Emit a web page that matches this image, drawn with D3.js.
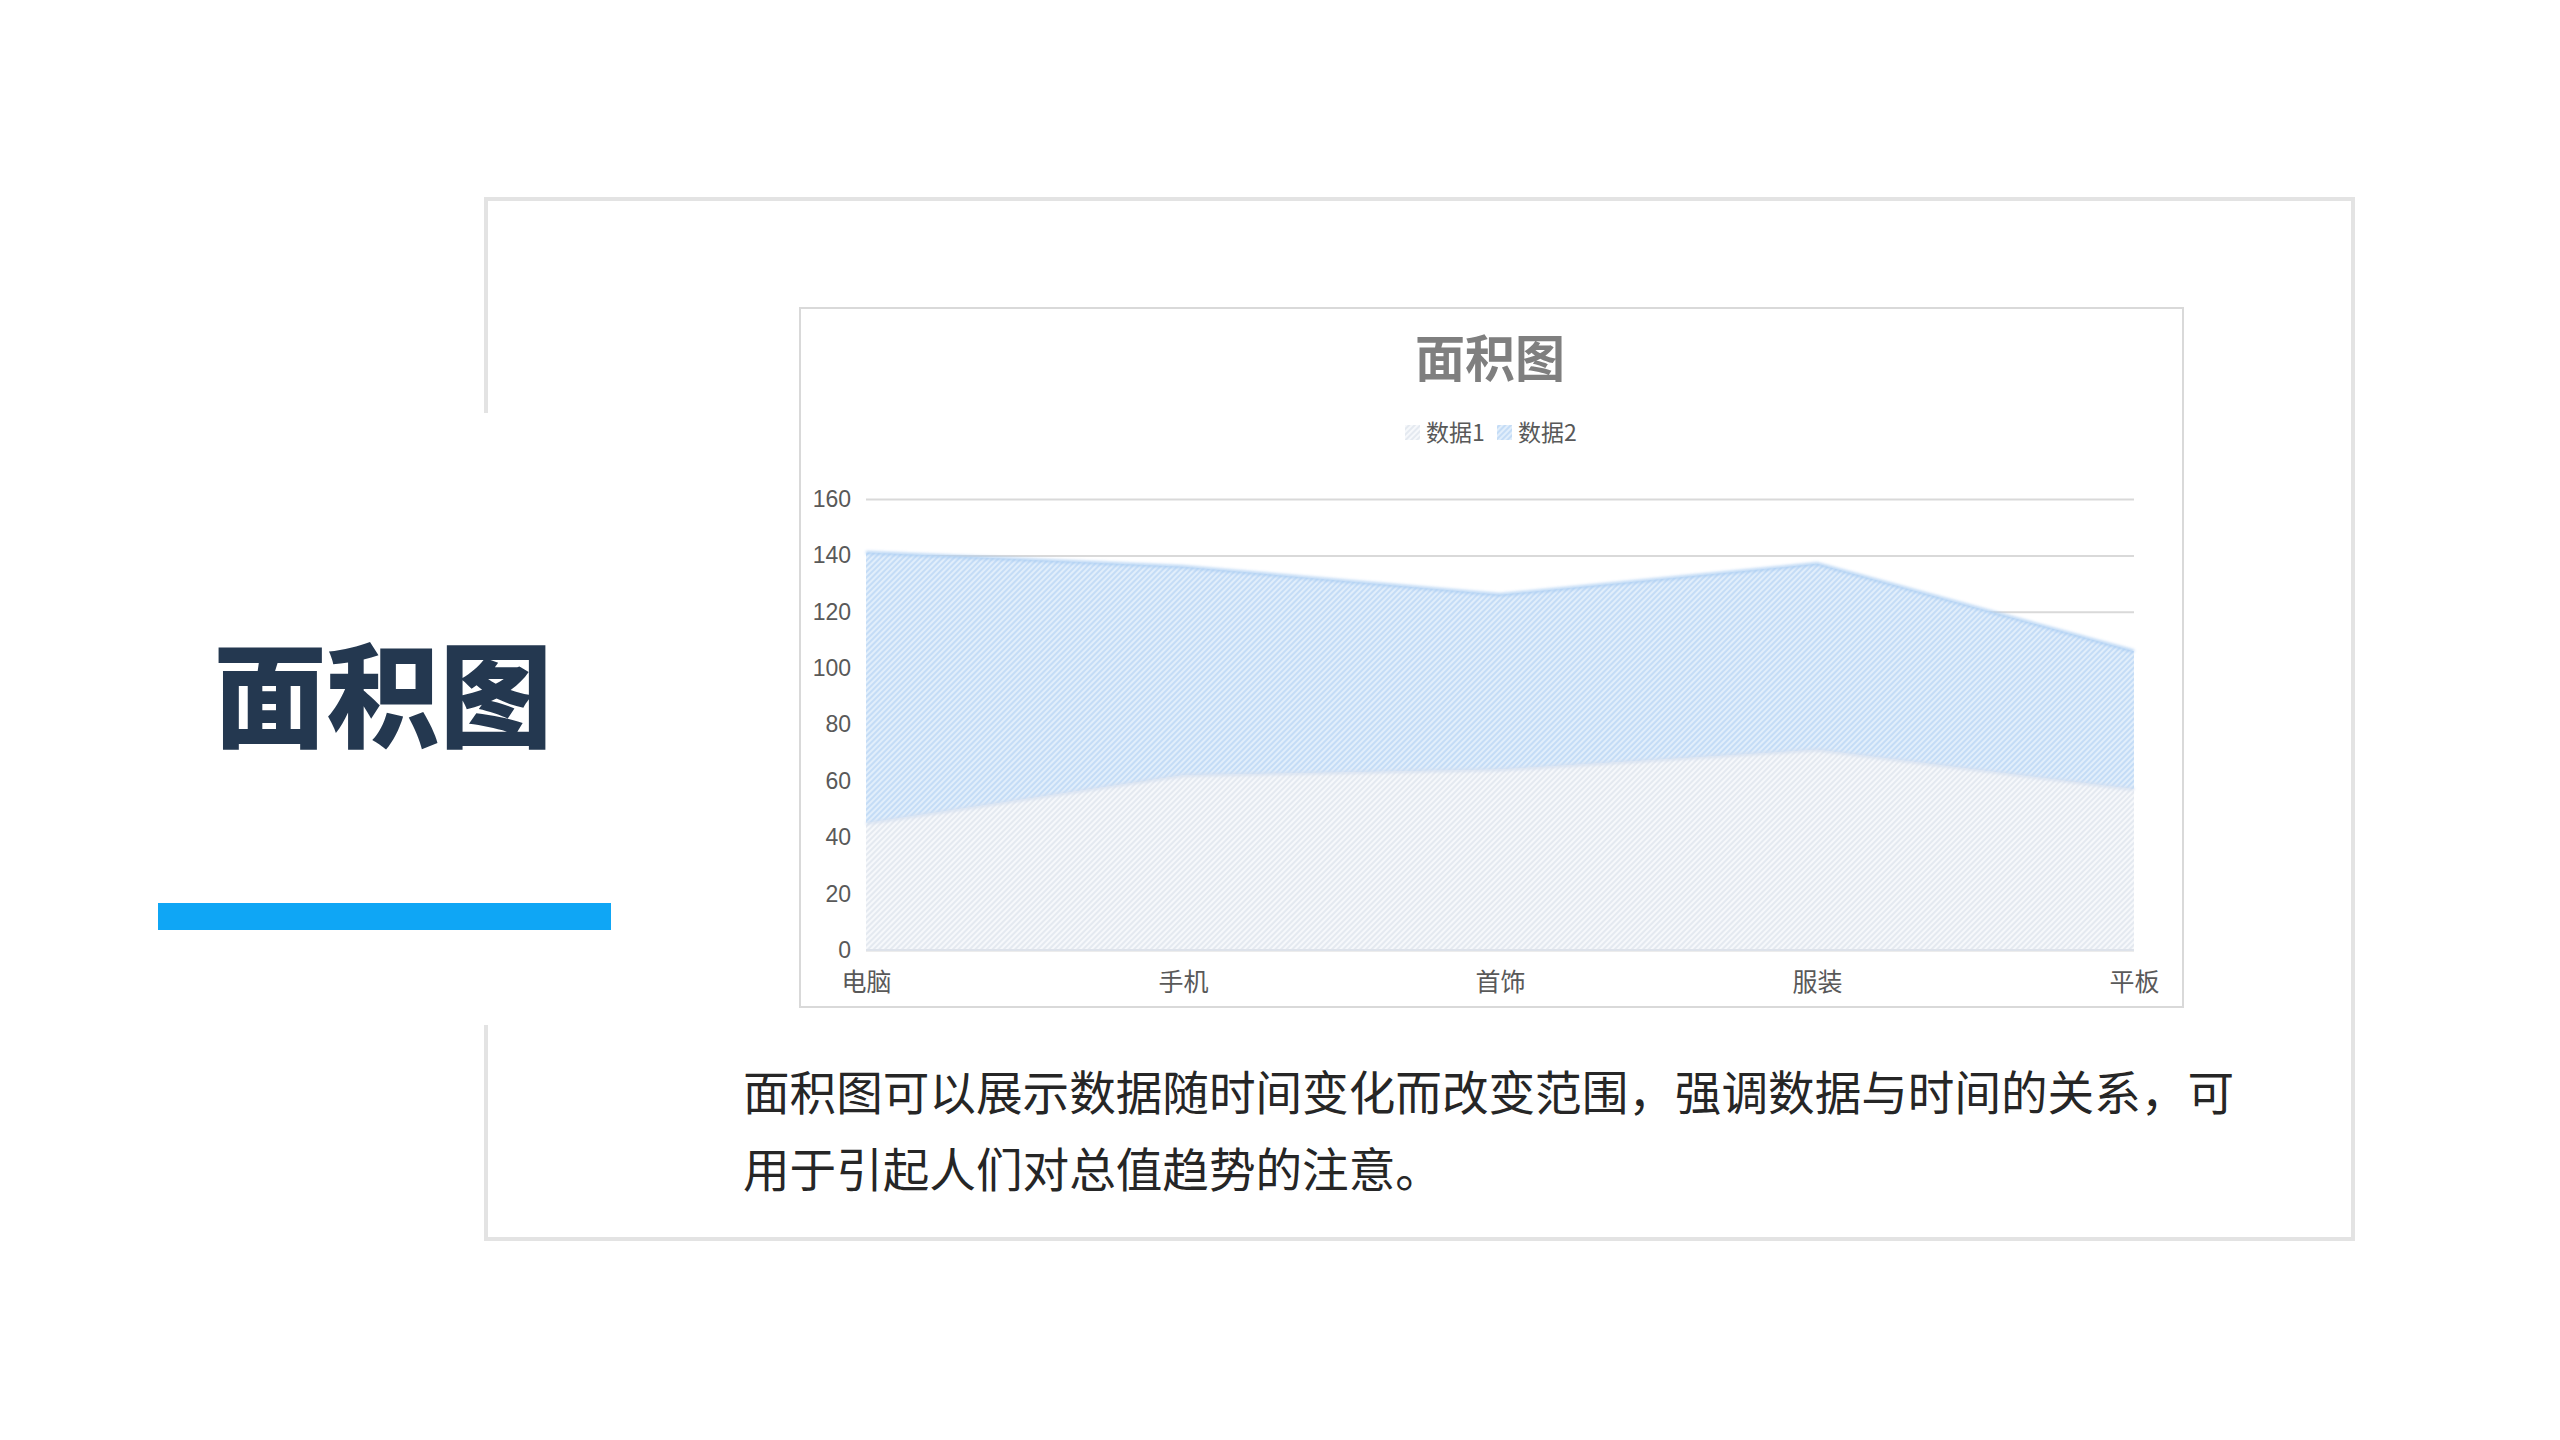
<!DOCTYPE html>
<html>
<head>
<meta charset="utf-8">
<script src="https://cdn.jsdelivr.net/npm/d3@7/dist/d3.min.js"></script>
<style>
  html, body { margin: 0; padding: 0; background: #ffffff; }
  svg { display: block; }
</style>
</head>
<body>
<script>
// ---- data ----
const categories = ["电脑", "手机", "首饰", "服装", "平板"];
const seriesNames = ["数据1", "数据2"];
const data1 = [45, 62, 64, 71, 57];
const data2 = [96, 74, 62, 66, 49];
const yTicks = [0, 20, 40, 60, 80, 100, 120, 140, 160];
const chartTitle = "面积图";
const pageTitle = "面积图";
const bodyLines = [
  "面积图可以展示数据随时间变化而改变范围，强调数据与时间的关系，可",
  "用于引起人们对总值趋势的注意。"
];

const W = 2560, H = 1440;
const cjk = "'Noto Sans CJK SC', 'Noto Sans', sans-serif";
const latin = "'Liberation Sans', Arial, 'Noto Sans CJK SC', sans-serif";

const svg = d3.select("body").append("svg")
  .attr("width", W).attr("height", H)
  .attr("viewBox", `0 0 ${W} ${H}`);

const defs = svg.append("defs");
function hatch(id, bg, fg) {
  const p = defs.append("pattern")
    .attr("id", id).attr("patternUnits", "userSpaceOnUse")
    .attr("width", 4).attr("height", 4)
    .attr("patternTransform", "rotate(45)");
  p.append("rect").attr("width", 4).attr("height", 4).attr("fill", bg);
  p.append("rect").attr("width", 2).attr("height", 4).attr("fill", fg);
}
hatch("hatch1", "#f6f8fb", "#e4e9f0");
hatch("hatch2", "#e1eefb", "#c4dcf6");
const blur = defs.append("filter").attr("id", "soft")
  .attr("x", "-5%").attr("y", "-50%").attr("width", "110%").attr("height", "200%");
blur.append("feGaussianBlur").attr("stdDeviation", 1.6);

// ---- outer frame ----
const frameColor = "#e3e3e3";
const fx0 = 486, fy0 = 199, fx1 = 2353, fy1 = 1239;
const frame = svg.append("g").attr("stroke", frameColor).attr("stroke-width", 4).attr("fill", "none");
frame.append("path").attr("d", `M${fx0},413 L${fx0},${fy0} L${fx1},${fy0} L${fx1},${fy1} L${fx0},${fy1} L${fx0},1025`);

// ---- left title and bar ----
svg.append("text")
  .attr("x", 383).attr("y", 738)
  .attr("text-anchor", "middle")
  .attr("font-family", cjk).attr("font-weight", 900)
  .attr("font-size", 113).attr("fill", "#243850")
  .text(pageTitle);
svg.append("rect")
  .attr("x", 158).attr("y", 903).attr("width", 453).attr("height", 27)
  .attr("fill", "#0fa6f5");

// ---- chart box ----
svg.append("rect")
  .attr("x", 800).attr("y", 308).attr("width", 1383).attr("height", 699)
  .attr("fill", "#ffffff").attr("stroke", "#d9d9d9").attr("stroke-width", 2);

svg.append("text")
  .attr("x", 1490).attr("y", 377)
  .attr("text-anchor", "middle")
  .attr("font-family", cjk).attr("font-weight", 700)
  .attr("font-size", 50).attr("fill", "#7f7f7f")
  .text(chartTitle);

// legend
const legend = svg.append("g").attr("font-family", cjk).attr("font-size", 23).attr("fill", "#595959");
const legendX = [1405, 1497];
const legendFill = ["url(#hatch1)", "url(#hatch2)"];
seriesNames.forEach((n, i) => {
  legend.append("rect").attr("x", legendX[i]).attr("y", 425).attr("width", 15).attr("height", 15)
    .attr("fill", legendFill[i]);
  legend.append("text").attr("x", legendX[i] + 21).attr("y", 441).text(n);
});

// scales
const x = d3.scalePoint().domain(categories).range([866, 2134]);
const y = d3.scaleLinear().domain([0, 160]).range([950, 499]);

// gridlines
const grid = svg.append("g").attr("transform", "translate(866,0)")
  .call(d3.axisLeft(y).tickValues(yTicks).tickSize(-(2134 - 866)).tickFormat(""));
grid.select(".domain").remove();
grid.selectAll("line").attr("stroke", "#d9d9d9").attr("stroke-width", 2);

// stacked areas
const rows = categories.map((c, i) => ({ cat: c, s1: data1[i], s2: data2[i] }));
const stack = d3.stack().keys(["s1", "s2"])(rows);
const area = d3.area()
  .x(d => x(d.data.cat))
  .y0(d => y(d[0]))
  .y1(d => y(d[1]));
const topLine = d3.line().x(d => x(d.data.cat)).y(d => y(d[1]));

const fills = ["url(#hatch1)", "url(#hatch2)"];
const edge = ["#d3dff0", "#aacdf2"];
const areas = svg.append("g");
[1, 0].forEach(k => {
  areas.append("path").attr("d", area(stack[k])).attr("fill", fills[k]);
});
[1, 0].forEach(k => {
  areas.append("path").attr("d", topLine(stack[k]))
    .attr("fill", "none").attr("stroke", edge[k]).attr("stroke-width", 3)
    .attr("filter", "url(#soft)").attr("opacity", 0.9);
});
areas.append("line").attr("x1", 866).attr("x2", 2134).attr("y1", y(0)).attr("y2", y(0))
  .attr("stroke", "#dde2ea").attr("stroke-width", 2);

// y axis labels
const yAxis = svg.append("g").attr("transform", "translate(851,0)")
  .call(d3.axisLeft(y).tickValues(yTicks).tickSize(0).tickPadding(0));
yAxis.select(".domain").remove();
yAxis.selectAll("text").attr("font-family", latin).attr("font-size", 23).attr("fill", "#595959");

// x axis labels
const xAxis = svg.append("g").attr("transform", "translate(0,950)")
  .call(d3.axisBottom(x).tickSize(0).tickPadding(0));
xAxis.select(".domain").remove();
xAxis.selectAll("text").attr("font-family", cjk).attr("font-size", 25).attr("fill", "#595959")
  .attr("dy", null).attr("y", 41);

// body text
const body = svg.append("g").attr("font-family", cjk).attr("font-size", 46.6).attr("fill", "#262626");
bodyLines.forEach((t, i) => {
  body.append("text").attr("x", 743).attr("y", 1110 + i * 77).text(t);
});
</script>
</body>
</html>
